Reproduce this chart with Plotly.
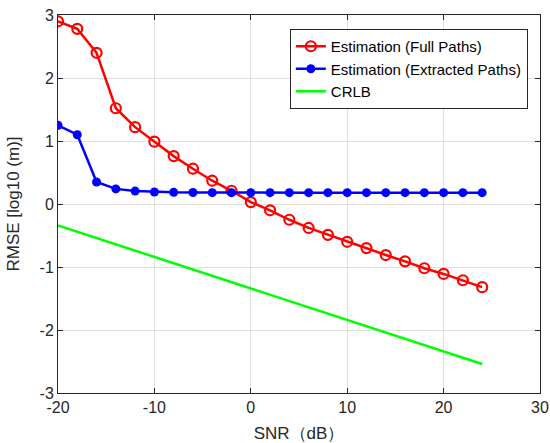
import plotly.graph_objects as go

snr = [-20, -18, -16, -14, -12, -10, -8, -6, -4, -2, 0, 2, 4, 6, 8, 10, 12, 14, 16, 18, 20, 22, 24]
full_paths = [2.90, 2.78, 2.40, 1.52, 1.22, 0.99, 0.76, 0.56, 0.37, 0.21, 0.03, -0.10, -0.25, -0.38, -0.49, -0.60, -0.70, -0.81, -0.91, -1.02, -1.11, -1.21, -1.32]
extracted_paths = [1.25, 1.10, 0.35, 0.24, 0.205, 0.19, 0.185, 0.182, 0.18, 0.18, 0.18, 0.18, 0.18, 0.18, 0.18, 0.18, 0.18, 0.18, 0.18, 0.18, 0.18, 0.18, 0.18]
crlb = [-0.34, -0.44, -0.54, -0.64, -0.74, -0.84, -0.94, -1.04, -1.14, -1.24, -1.34, -1.44, -1.54, -1.64, -1.74, -1.84, -1.94, -2.04, -2.14, -2.24, -2.34, -2.44, -2.54]

x_ticks = [-20, -10, 0, 10, 20, 30]
x_ticktext = ["-20", "-10", "0", "10", "20", "30"]
y_ticks = [-3, -2, -1, 0, 1, 2, 3]
y_ticktext = ["-3", "-2", "-1", "0", "1", "2", "3"]

font_family = "Liberation Sans, Arial, sans-serif"
txt = "#262626"

fig = go.Figure()
fig.add_trace(go.Scatter(
    x=snr, y=full_paths, mode="lines+markers", name="Estimation (Full Paths)",
    line=dict(color="#ff0000", width=2.5),
    marker=dict(symbol="circle-open", size=10, color="#ff0000", line=dict(width=2.2, color="#ff0000")),
))
fig.add_trace(go.Scatter(
    x=snr, y=extracted_paths, mode="lines+markers", name="Estimation (Extracted Paths)",
    line=dict(color="#0000ff", width=2.5),
    marker=dict(symbol="circle", size=9, color="#0000ff"),
))
fig.add_trace(go.Scatter(
    x=snr, y=crlb, mode="lines", name="CRLB",
    line=dict(color="#00ff00", width=2.5),
))

axis_common = dict(
    showline=True, linecolor="#262626", linewidth=1, mirror="ticks",
    ticks="inside", ticklen=5, tickcolor="#262626",
    showgrid=True, gridcolor="#e0e0e0", gridwidth=1,
    zeroline=False, automargin=False,
    tickfont=dict(family=font_family, size=16, color=txt),
)

fig.update_layout(
    width=550, height=443,
    margin=dict(l=58, r=10, t=15, b=50),
    paper_bgcolor="white", plot_bgcolor="white",
    font=dict(family=font_family, color=txt),
    xaxis=dict(range=[-20, 30], tickvals=x_ticks, ticktext=x_ticktext,
               title=dict(text="SNR（dB）", font=dict(family=font_family, size=17, color=txt)),
               **axis_common),
    yaxis=dict(range=[-3, 3], tickvals=y_ticks, ticktext=y_ticktext,
               title=dict(text="RMSE [log10 (m)]", font=dict(family=font_family, size=17, color=txt)),
               **axis_common),
    legend=dict(x=0.481, y=0.963, xanchor="left", yanchor="top",
                bgcolor="white", bordercolor="#262626", borderwidth=1,
                font=dict(family=font_family, size=15, color="black"),
                tracegroupgap=0, itemwidth=30),
    showlegend=True,
)

fig.write_html("out.html", config={"displayModeBar": False},
               post_script="document.body.style.margin='0px';")
